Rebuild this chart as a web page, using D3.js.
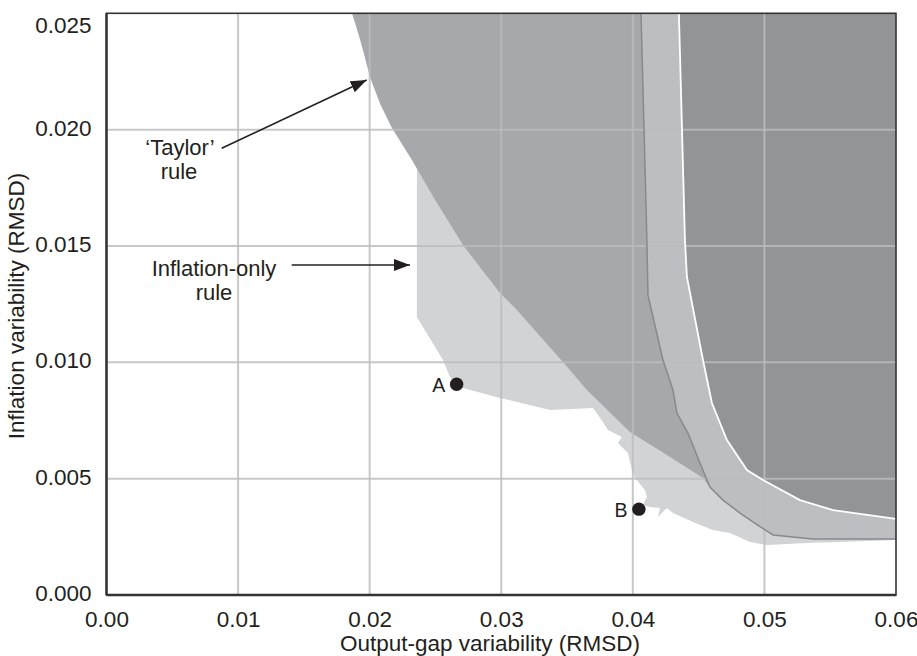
<!DOCTYPE html>
<html><head><meta charset="utf-8">
<script src="https://cdn.jsdelivr.net/npm/d3@7/dist/d3.min.js"></script>
<style>
html,body{margin:0;padding:0;background:#fff;}
text{font-family:"Liberation Sans",Arial,Helvetica,sans-serif;fill:#231f20;}
</style></head>
<body><svg id="c" width="917" height="656"></svg>
<script>
// ---- data (x = output-gap RMSD, y = inflation RMSD) ----
const xTickValues = [0, 0.01, 0.02, 0.03, 0.04, 0.05, 0.06];
const xTickLabels = ["0.00", "0.01", "0.02", "0.03", "0.04", "0.05", "0.06"];
const yTickValues = [0, 0.005, 0.010, 0.015, 0.020, 0.025];
const yTickLabels = ["0.000", "0.005", "0.010", "0.015", "0.020", "0.025"];

// Inflation-only rule region (lightest), outline
const inflationOnlyRegion = [
  [0.02359, 0.025], [0.02359, 0.01195], [0.02557, 0.01010], [0.02610, 0.00937],
  [0.02656, 0.00907], [0.02709, 0.00890], [0.02990, 0.00847], [0.03370, 0.00795],
  [0.03697, 0.00804], [0.03773, 0.00744], [0.03811, 0.00709], [0.03917, 0.00679],
  [0.03887, 0.00653], [0.03963, 0.00610], [0.03993, 0.00537], [0.04016, 0.00503],
  [0.04092, 0.00451], [0.04107, 0.00421], [0.04077, 0.00387], [0.04130, 0.00378],
  [0.04206, 0.00374], [0.04191, 0.00335], [0.04259, 0.00374], [0.04305, 0.00352],
  [0.04457, 0.00314], [0.04608, 0.00279], [0.04738, 0.00266], [0.04890, 0.00228],
  [0.05019, 0.00215], [0.05323, 0.00223], [0.05574, 0.00228], [0.06, 0.00236],
  [0.06, 0.025]
];
// 'Taylor' rule region, frontier
const taylorFrontier = [
  [0.01866, 0.025], [0.01910, 0.02420], [0.01949, 0.02342], [0.02002, 0.02226],
  [0.02080, 0.02110], [0.02169, 0.02007], [0.02321, 0.01870], [0.02500, 0.01695],
  [0.02709, 0.01504], [0.02990, 0.01298], [0.03119, 0.01225],
  [0.03469, 0.01001], [0.03651, 0.00881], [0.03978, 0.00701], [0.04259, 0.00602],
  [0.04533, 0.00503], [0.04586, 0.00464], [0.06, 0.00464], [0.06, 0.025]
];
// band boundary (grey line)
const bandFrontier = [
  [0.04062, 0.025], [0.04107, 0.01526], [0.04115, 0.01289], [0.04229, 0.01010],
  [0.04305, 0.00881], [0.04335, 0.00782], [0.04419, 0.00696], [0.04510, 0.00567],
  [0.04586, 0.00464], [0.04685, 0.00408], [0.04815, 0.00352], [0.04966, 0.00294],
  [0.05065, 0.00258], [0.05369, 0.00241], [0.06, 0.00241]
];
// dark region boundary (white line)
const darkFrontier = [
  [0.04350, 0.025], [0.04396, 0.01526], [0.04411, 0.01367], [0.04533, 0.01010],
  [0.04601, 0.00825], [0.04715, 0.00666], [0.04867, 0.00537], [0.04989, 0.00494],
  [0.05270, 0.00408], [0.05521, 0.00365], [0.06, 0.00327]
];
const pointNames = ["A", "B"];
const pointX = [0.02661, 0.04046];
const pointY = [0.00906, 0.00369];

// ---- layout ----
const svg = d3.select("#c");
const m = {left: 106.5, right: 21, top: 13.3, bottom: 61};
const W = 917, H = 656;
const x = d3.scaleLinear().domain([0, 0.06]).range([m.left, W - m.right]);
const y = d3.scaleLinear().domain([0, 0.025]).range([H - m.bottom, m.top]);
const line = d3.line().x(d => x(d[0])).y(d => y(d[1]));
const corner = [0.06, 0.025];

svg.append("path").attr("d", line(inflationOnlyRegion) + "Z").attr("fill", "#d2d3d5");
svg.append("path").attr("d", line(taylorFrontier) + "Z").attr("fill", "#a7a8ab");
svg.append("path").attr("d", line(bandFrontier.concat([corner])) + "Z").attr("fill", "#bdbec1");
svg.append("path").attr("d", line(darkFrontier.concat([corner])) + "Z").attr("fill", "#939498");

// gridlines
const g = svg.append("g");
g.selectAll("line.vx").data(xTickValues.slice(1, -1)).join("line")
  .attr("x1", d => x(d)).attr("x2", d => x(d)).attr("y1", y(0)).attr("y2", y(0.025))
  .attr("stroke", "rgb(188,188,190)").attr("stroke-opacity", 0.82).attr("stroke-width", 2);
g.selectAll("line.hy").data(yTickValues.slice(1, -1)).join("line")
  .attr("y1", d => y(d)).attr("y2", d => y(d)).attr("x1", x(0)).attr("x2", x(0.06))
  .attr("stroke", "rgb(188,188,190)").attr("stroke-opacity", 0.82).attr("stroke-width", 2);

// boundary strokes
svg.append("path").attr("d", line(bandFrontier)).attr("fill", "none")
  .attr("stroke", "#88898c").attr("stroke-width", 1.5);
svg.append("path").attr("d", line(darkFrontier)).attr("fill", "none")
  .attr("stroke", "#ffffff").attr("stroke-width", 1.8);

// frame
svg.append("rect").attr("x", x(0)).attr("y", y(0.025)).attr("width", x(0.06) - x(0))
  .attr("height", y(0) - y(0.025)).attr("fill", "none").attr("stroke", "#333333").attr("stroke-width", 1.6);
svg.append("line").attr("x1", x(0)).attr("x2", x(0.06)).attr("y1", y(0)).attr("y2", y(0))
  .attr("stroke", "#333333").attr("stroke-width", 2.4);
svg.append("line").attr("x1", x(0)).attr("x2", x(0)).attr("y1", y(0)).attr("y2", y(0.025))
  .attr("stroke", "#333333").attr("stroke-width", 2.4);

// axes (library axes, no tick marks)
const xAxis = d3.axisBottom(x).tickValues(xTickValues).tickFormat((d, i) => xTickLabels[i]).tickSize(0).tickPadding(0);
const xa = svg.append("g").attr("transform", `translate(0,${y(0)})`).call(xAxis);
xa.select(".domain").remove();
xa.selectAll("text").attr("font-size", 22.5).attr("dy", null).attr("y", 32)
  .style("font-family", "'Liberation Sans',Arial,sans-serif").attr("fill", "#231f20");

const yAxis = d3.axisLeft(y).tickValues(yTickValues).tickFormat((d, i) => yTickLabels[i]).tickSize(0).tickPadding(0);
const ya = svg.append("g").attr("transform", `translate(${x(0)},0)`).call(yAxis);
ya.select(".domain").remove();
ya.selectAll(".tick").attr("transform", d => `translate(0,${Math.max(y(d), y(0.025) + 14)})`);
ya.selectAll("text").attr("font-size", 22.5).attr("dy", null).attr("x", -15).attr("y", 6)
  .style("font-family", "'Liberation Sans',Arial,sans-serif").attr("fill", "#231f20");

svg.append("text").attr("x", 490).attr("y", 651).attr("text-anchor", "middle")
  .attr("font-size", 22.5).text("Output-gap variability (RMSD)");
svg.append("text").attr("transform", "translate(24,306) rotate(-90)").attr("text-anchor", "middle")
  .attr("font-size", 22.5).text("Inflation variability (RMSD)");

// points A, B
pointNames.forEach((n, i) => {
  svg.append("circle").attr("cx", x(pointX[i])).attr("cy", y(pointY[i])).attr("r", 6.7).attr("fill", "#231f20");
  svg.append("text").attr("x", x(pointX[i]) - 18).attr("y", y(pointY[i]) + 7.5)
    .attr("text-anchor", "middle").attr("font-size", 19.5).text(n);
});

// annotations
const defs = svg.append("defs");
defs.append("marker").attr("id", "ah").attr("viewBox", "0 0 16 12").attr("refX", 16).attr("refY", 6)
  .attr("markerWidth", 16).attr("markerHeight", 12).attr("markerUnits", "userSpaceOnUse")
  .attr("orient", "auto").append("path").attr("d", "M0,0 L16,6 L0,12 Z").attr("fill", "#231f20");

svg.append("line").attr("x1", 221.7).attr("y1", 148.3).attr("x2", 366.7).attr("y2", 80)
  .attr("stroke", "#231f20").attr("stroke-width", 1.6).attr("marker-end", "url(#ah)");
svg.append("line").attr("x1", 291.7).attr("y1", 265).attr("x2", 410).attr("y2", 265)
  .attr("stroke", "#231f20").attr("stroke-width", 1.6).attr("marker-end", "url(#ah)");

const ann = [["\u2018Taylor\u2019", 180, 155], ["rule", 179, 179], ["Inflation-only", 214, 276], ["rule", 214, 300]];
ann.forEach(a => svg.append("text").attr("x", a[1]).attr("y", a[2]).attr("text-anchor", "middle")
  .attr("font-size", 22).text(a[0]));
</script></body></html>
